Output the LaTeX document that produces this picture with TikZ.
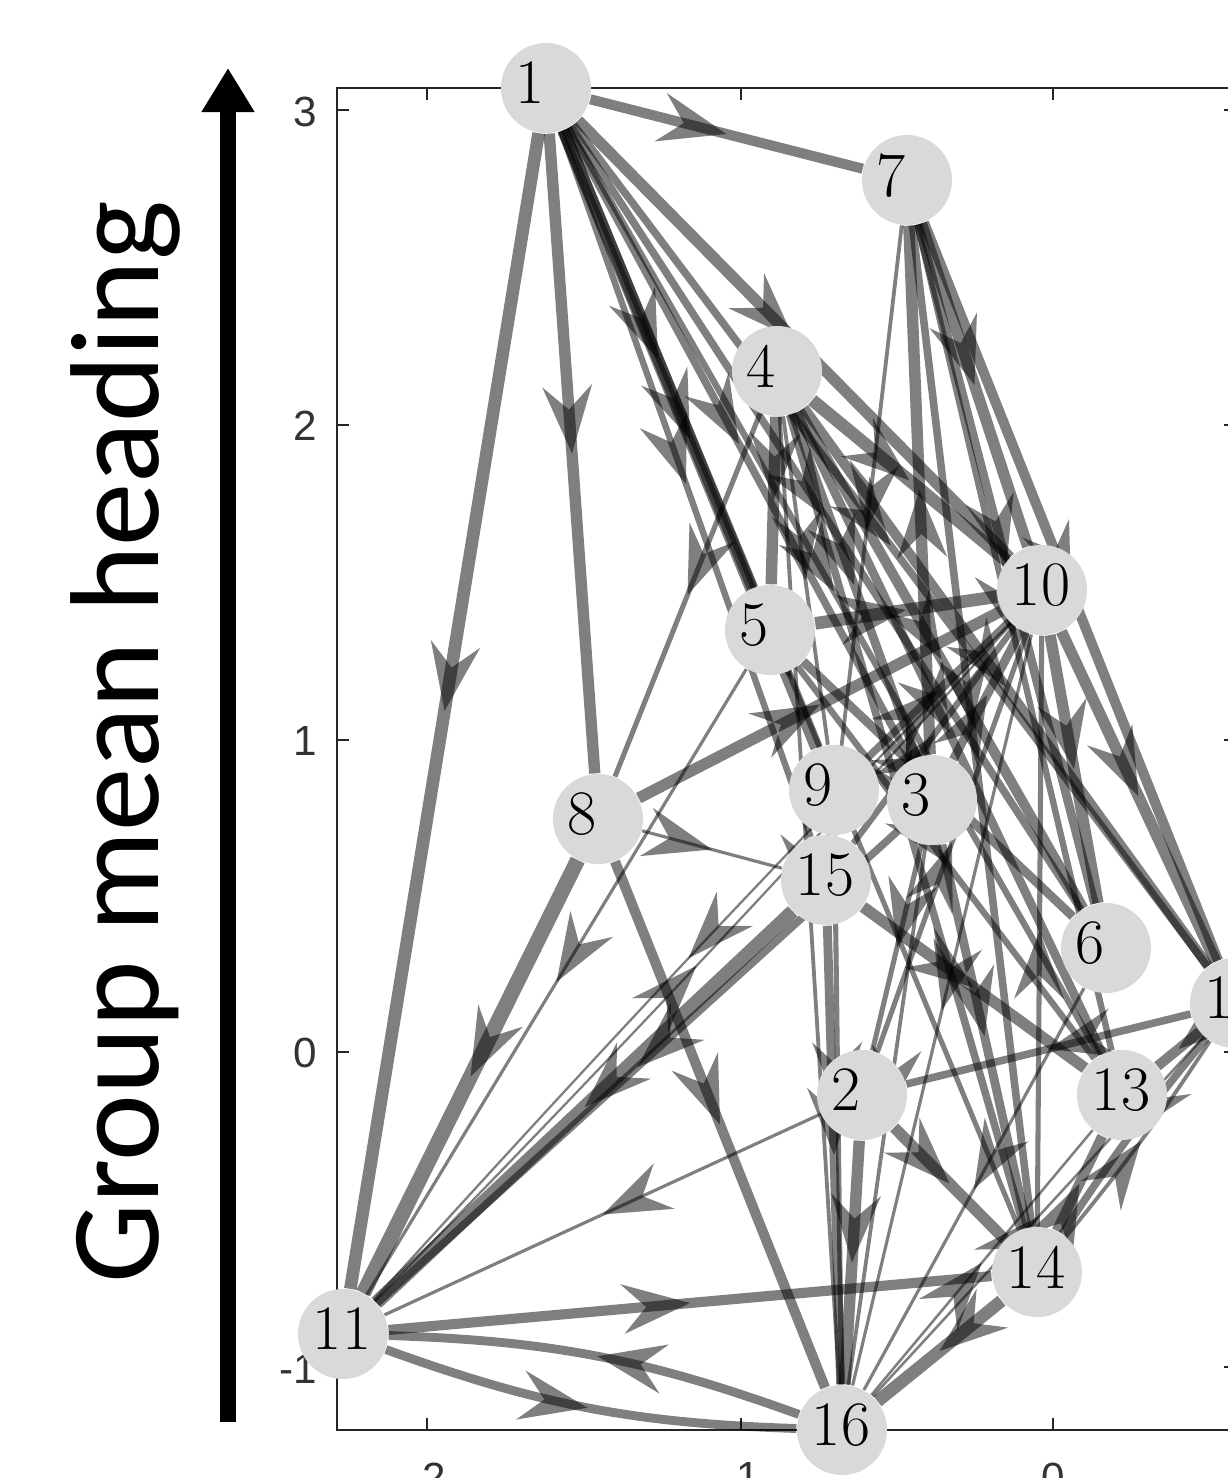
\documentclass[tikz,border=0pt]{standalone}
\usepackage{fontspec}
\newfontfamily\ylabfont{Carlito}
\newfontfamily\tickfont{Liberation Sans}
\usetikzlibrary{arrows.meta,decorations.markings}
\pgfdeclarelayer{edges}
\pgfsetlayers{edges,main}
\definecolor{nodegray}{HTML}{D9D9D9}
\definecolor{axisgray}{HTML}{262626}
\definecolor{ticktext}{HTML}{333333}
\begin{document}
\begin{tikzpicture}[x=0.01cm, y=-0.01cm,
  vert/.style={circle, fill=nodegray, inner sep=0pt, minimum size=0.9cm, text width=0.6cm, align=left, text depth=0.1cm, font=\fontsize{18}{20}\selectfont},
  ed/.style={draw=black, draw opacity=0.5, line width=#1*0.36pt, postaction={decorate}},
  axisline/.style={draw=axisgray, line width=0.7pt},
  ticklab/.style={font=\tickfont\fontsize{12}{14}\selectfont, text=ticktext, inner sep=0pt},
  decoration={markings, mark=at position 0.5 with {\fill[black, fill opacity=0.5] (0,0) -- (-68,-25) -- (-44,0) -- (-68,25) -- cycle;}}
]
\useasboundingbox (0,0) rectangle (1228,1478);
\clip (0,0) rectangle (1228,1478);

% y label and big arrow
\coordinate (arrbot) at (228,1422);
\coordinate (arrtop) at (228,68);
\draw[line width=16*0.2845pt, -{Triangle[length=0.44cm, width=0.5cm]}] (arrbot) -- (arrtop);
\node[rotate=90, anchor=base, font=\ylabfont\fontsize{36}{40}\selectfont] (ylab) at (158,742) {Group mean heading};

% vertices
\node[vert] (n1) at (546,88) {1};
\node[vert] (n7) at (907,180) {7};
\node[vert] (n4) at (777,371) {4};
\node[vert] (n5) at (770,630) {5};
\node[vert] (n10) at (1042,590) {10};
\node[vert] (n8) at (598,819) {8};
\node[vert] (n9) at (834,790) {9};
\node[vert] (n3) at (932,800) {3};
\node[vert] (n15) at (826,880) {15};
\node[vert] (n6) at (1106,948) {6};
\node[vert] (n12) at (1235,1003) {12};
\node[vert] (n2) at (862,1095) {2};
\node[vert] (n13) at (1122,1095) {13};
\node[vert] (n14) at (1037,1272) {14};
\node[vert] (n11) at (343,1334) {11};
\node[vert] (n16) at (842,1430) {16};

\begin{pgfonlayer}{edges}
% axes
\coordinate (tl) at (337,88);
\coordinate (bl) at (337,1430);
\coordinate (tr) at (1236,88);
\coordinate (br) at (1236,1430);
\draw[axisline] (tr) -- (tl) -- (bl) -- (br) -- cycle;
\foreach \yy in {110,425,740,1052,1367} {
  \draw[axisline] (337,\yy) -- (349,\yy);
  \draw[axisline] (1236,\yy) -- (1224,\yy);
}
\foreach \xx in {427,741,1053} {
  \draw[axisline] (\xx,88) -- (\xx,100);
  \draw[axisline] (\xx,1430) -- (\xx,1418);
}
\node[ticklab, anchor=east] (ty3) at (318,112) {3};
\node[ticklab, anchor=east] (ty2) at (318,426) {2};
\node[ticklab, anchor=east] (ty1) at (318,741) {1};
\node[ticklab, anchor=east] (ty0) at (318,1053) {0};
\node[ticklab, anchor=east] (tym1) at (318,1369) {-1};
\node[ticklab, anchor=north] (txm2) at (427,1462) {-2};
\node[ticklab, anchor=north] (txm1) at (741,1462) {-1};
\node[ticklab, anchor=north] (tx0) at (1053,1462) {0};

% edges
\draw[ed=8] (n1) -- (n7);
\draw[ed=10] (n1) -- (n11);
\draw[ed=9] (n1) -- (n8);
\draw[ed=9] (n1) -- (n10);
\draw[ed=9] (n1) -- (n5);
\draw[ed=10] (n1) -- (n9);
\draw[ed=6] (n1) -- (n3);
\draw[ed=6] (n1) -- (n6);
\draw[ed=6] (n1) -- (n12);
\draw[ed=5] (n1) -- (n13);
\draw[ed=5] (n1) -- (n15);
\draw[ed=4] (n1) -- (n14);
\draw[ed=9] (n7) -- (n10);
\draw[ed=8] (n7) -- (n12);
\draw[ed=7] (n7) -- (n6);
\draw[ed=9] (n3) -- (n7);
\draw[ed=3] (n7) -- (n15);
\draw[ed=6] (n7) -- (n14);
\draw[ed=5] (n7) -- (n13);
\draw[ed=9] (n4) -- (n5);
\draw[ed=4] (n4) -- (n8);
\draw[ed=10] (n4) -- (n10);
\draw[ed=8] (n4) -- (n6);
\draw[ed=8] (n4) -- (n12);
\draw[ed=7] (n4) -- (n13);
\draw[ed=7] (n4) -- (n3);
\draw[ed=6] (n4) -- (n14);
\draw[ed=3] (n4) -- (n9);
\draw[ed=3] (n4) -- (n16);
\draw[ed=10] (n5) -- (n10);
\draw[ed=2.5] (n5) -- (n11);
\draw[ed=7] (n5) -- (n6);
\draw[ed=5] (n5) -- (n13);
\draw[ed=9] (n8) -- (n10);
\draw[ed=12] (n8) -- (n11);
\draw[ed=2.5] (n8) -- (n15);
\draw[ed=8] (n8) -- (n16);
\draw[ed=6] (n9) -- (n10);
\draw[ed=7] (n3) -- (n10);
\draw[ed=5] (n15) -- (n10);
\draw[ed=4] (n2) -- (n10);
\draw[ed=4] (n14) -- (n10);
\draw[ed=2.5] (n10) -- (n16);
\draw[ed=9] (n10) -- (n6);
\draw[ed=9] (n10) -- (n12);
\draw[ed=1.8] (n10) to[bend right=1] (n11);
\draw[ed=1.8] (n11) to[bend right=1] (n10);
\draw[ed=11] (n15) -- (n11);
\draw[ed=6] (n3) -- (n11);
\draw[ed=2.5] (n2) -- (n11);
\draw[ed=8] (n11) -- (n14);
\draw[ed=7] (n16) to[bend right=9] (n11);
\draw[ed=7] (n11) to[bend right=9] (n16);
\draw[ed=9] (n2) -- (n16);
\draw[ed=7] (n15) -- (n16);
\draw[ed=4] (n9) -- (n16);
\draw[ed=9] (n2) -- (n14);
\draw[ed=9] (n15) -- (n13);
\draw[ed=7] (n3) -- (n14);
\draw[ed=2.5] (n6) -- (n16);
\draw[ed=8] (n14) -- (n13);
\draw[ed=6] (n12) to[bend right=3] (n14);
\draw[ed=3] (n14) to[bend right=3] (n12);
\draw[ed=10] (n14) -- (n16);
\draw[ed=2] (n16) -- (n12);
\draw[ed=2] (n16) -- (n13);
\draw[ed=6] (n12) -- (n2);
\draw[ed=8] (n12) -- (n13);
\draw[ed=4] (n3) -- (n2);
\draw[ed=3] (n3) -- (n16);
\end{pgfonlayer}
\end{tikzpicture}
\end{document}
